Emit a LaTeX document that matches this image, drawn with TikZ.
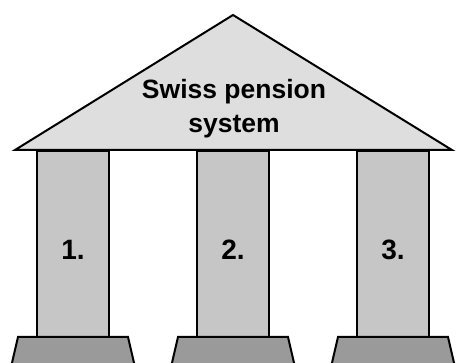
\documentclass[tikz,border=0pt]{standalone}
\usepackage{fontspec}
\setmainfont{Liberation Sans}
\usetikzlibrary{positioning,calc}

\definecolor{roofgray}{HTML}{DEDEDE}
\definecolor{pillargray}{HTML}{C6C6C6}
\definecolor{basegray}{HTML}{9A9A9A}

\tikzset{
  pillar/.style={draw, line width=2pt, fill=pillargray, minimum width=72pt, minimum height=186pt, inner sep=0pt, outer sep=0pt},
  plinth/.style={draw, line width=2pt, fill=basegray, line join=miter},
  roof/.style={draw, line width=2pt, fill=roofgray, line join=miter},
  number/.style={font=\bfseries\fontsize{28}{28}\selectfont},
}

\begin{document}
\begin{tikzpicture}[x=1pt, y=1pt, node distance=88pt]
\useasboundingbox (0,0) rectangle (456,-363);
\clip (0,0) rectangle (456,-363);

% the three pillars
\node [pillar] (p1) at (73,-244) {};
\node [pillar, right=of p1] (p2) {};
\node [pillar, right=of p2] (p3) {};

\foreach \i in {1,2,3}
  \node [number] (n\i) at ([yshift=-6pt]p\i.center) {\i.};

% roof
\coordinate (eaveL) at (15,-150);
\coordinate (apex) at (233,-15);
\coordinate (eaveR) at (452,-150);
\draw [roof] (eaveL) -- (apex) -- (eaveR) -- cycle;
\node [font=\bfseries\fontsize{26.5}{34}\selectfont, align=center] (title) at (234,-109) {Swiss pension\\system};

% bases, running off the bottom edge
\foreach \i in {1,2,3}
  \draw [plinth] ($(p\i.south west)+(-19,0)$) -- ($(p\i.south east)+(19,0)$)
    -- ++(10,-43) -- ($(p\i.south west)+(-29,-43)$) -- cycle;
\end{tikzpicture}
\end{document}
